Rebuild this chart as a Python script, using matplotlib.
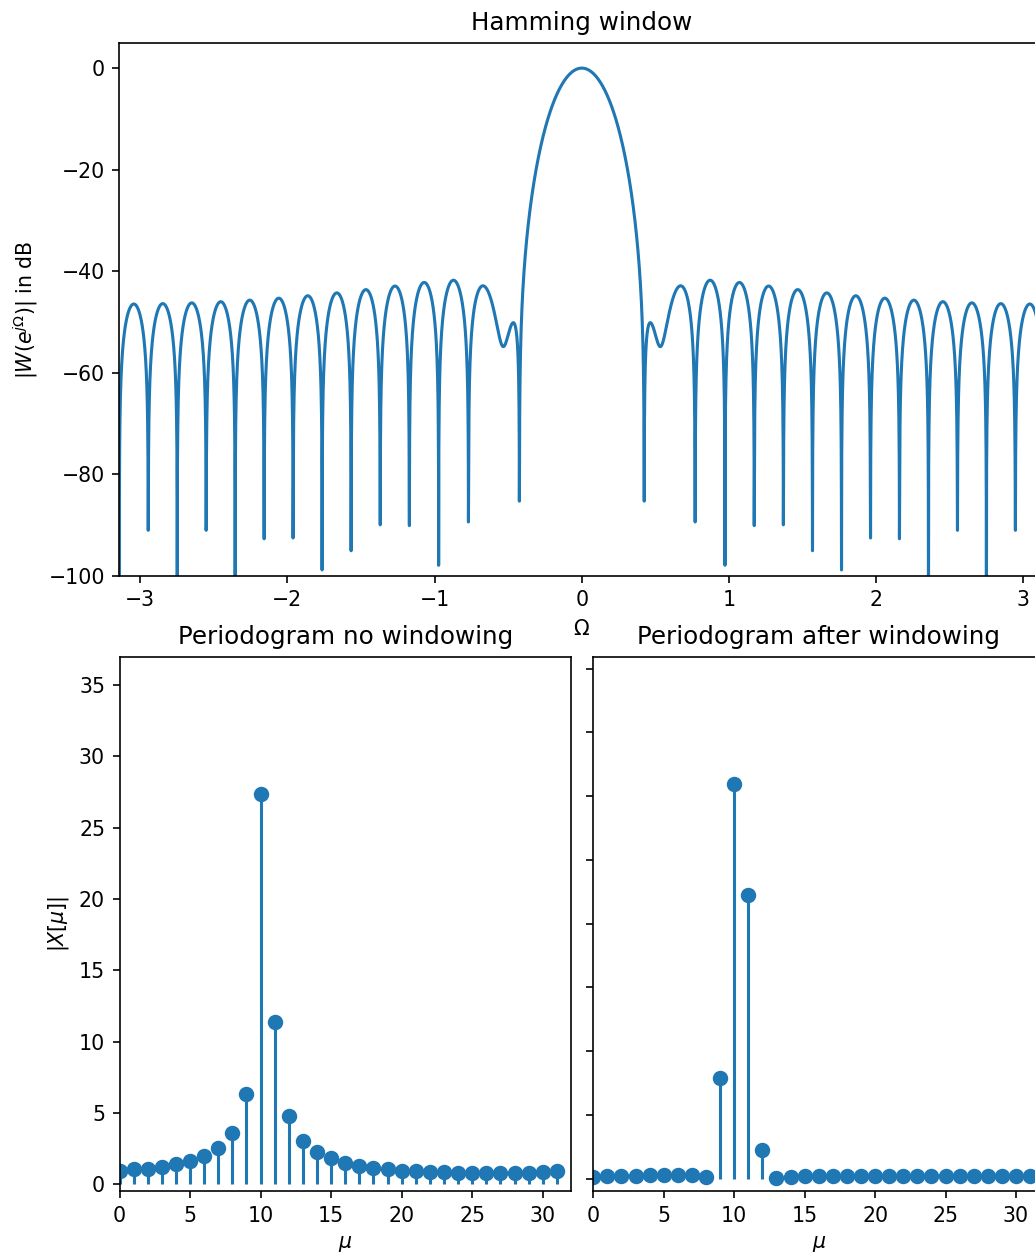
import numpy as np
import matplotlib
matplotlib.use("Agg")
import matplotlib.pyplot as plt

# Hamming window coefficients (length 32)
hamming_window = [0.08000, 0.08942, 0.11728, 0.16245, 0.22308, 0.29668, 0.38024, 0.47034,
                  0.56330, 0.65530, 0.74258, 0.82157, 0.88903, 0.94220, 0.97890, 0.99764,
                  0.99764, 0.97890, 0.94220, 0.88903, 0.82157, 0.74258, 0.65530, 0.56330,
                  0.47034, 0.38024, 0.29668, 0.22308, 0.16245, 0.11728, 0.08942, 0.08000]

# DFT bins
mu = list(range(32))

# |X[mu]| without windowing
mag_no_window = [0.95, 1.03, 1.08, 1.22, 1.40, 1.62, 1.97, 2.51, 3.59, 6.30,
                 27.35, 11.40, 4.81, 3.05, 2.24, 1.81, 1.49, 1.30, 1.16, 1.05,
                 0.95, 0.92, 0.86, 0.84, 0.81, 0.78, 0.78, 0.76, 0.78, 0.81,
                 0.84, 0.95]

# |X[mu]| after Hamming windowing
mag_window = [0.08, 0.10, 0.10, 0.10, 0.12, 0.12, 0.15, 0.12, 0.06, 3.96,
              15.48, 11.12, 1.11, 0.03, 0.08, 0.10, 0.10, 0.10, 0.10, 0.10,
              0.10, 0.10, 0.10, 0.10, 0.10, 0.10, 0.10, 0.10, 0.10, 0.10,
              0.10, 0.10]

top_xticks = [-3, -2, -1, 0, 1, 2, 3]
top_yticks = [0, -20, -40, -60, -80, -100]
left_yticks = [0, 5, 10, 15, 20, 25, 30, 35]
right_yticks = [0, 2.5, 5, 7.5, 10, 12.5, 15, 17.5, 20]
bottom_xticks = [0, 5, 10, 15, 20, 25, 30]

# spectrum of the window via FFT (zero-padded)
nfft = 8192
W = np.fft.fftshift(np.fft.fft(np.array(hamming_window), nfft))
W = W / np.max(np.abs(W)) + np.nextafter(0, 1)
Omega = np.linspace(-np.pi, np.pi, nfft)

DPI = 148
W_PX, H_PX = 1035, 1254
fig = plt.figure(figsize=(W_PX / DPI, H_PX / DPI), dpi=DPI)

def pos(x0, x1, ytop, ybot):
    return [x0 / W_PX, (H_PX - ybot) / H_PX, (x1 - x0) / W_PX, (ybot - ytop) / H_PX]

ax_top = fig.add_axes(pos(119.3, 1044.2, 42.7, 576.0))
ax_top.plot(Omega, 20 * np.log10(np.abs(W)), color='C0', lw=1.5)
ax_top.set_xlim(-np.pi, np.pi)
ax_top.set_ylim(-100, 5)
ax_top.set_xticks(top_xticks)
ax_top.set_yticks(top_yticks)
ax_top.set_title('Hamming window')
ax_top.set_xlabel(r'$\Omega$')
ax_top.set_ylabel(r'$| W(e^{j \Omega}) |$ in dB')

ax_l = fig.add_axes(pos(119.5, 571.0, 656.7, 1191.3))
m, s, b = ax_l.stem(mu, mag_no_window, linefmt='C0-', markerfmt='C0o', basefmt=' ')
m.set_markersize(6.5)
ax_l.set_xlim(0, 32)
ax_l.set_ylim(-0.5, 37)
ax_l.set_xticks(bottom_xticks)
ax_l.set_yticks(left_yticks)
ax_l.set_title('Periodogram no windowing')
ax_l.set_xlabel(r'$\mu$')
ax_l.set_ylabel(r'$|X[\mu]|$')

ax_r = fig.add_axes(pos(593.3, 1044.2, 656.7, 1191.3))
m, s, b = ax_r.stem(mu, mag_window, linefmt='C0-', markerfmt='C0o', basefmt=' ')
m.set_markersize(6.5)
ax_r.set_xlim(0, 32)
ax_r.set_ylim(-0.5, 20.47)
ax_r.set_xticks(bottom_xticks)
ax_r.set_yticks(right_yticks)
ax_r.set_yticklabels([])
ax_r.set_title('Periodogram after windowing')
ax_r.set_xlabel(r'$\mu$')

fig.savefig('out.png', dpi=DPI)
